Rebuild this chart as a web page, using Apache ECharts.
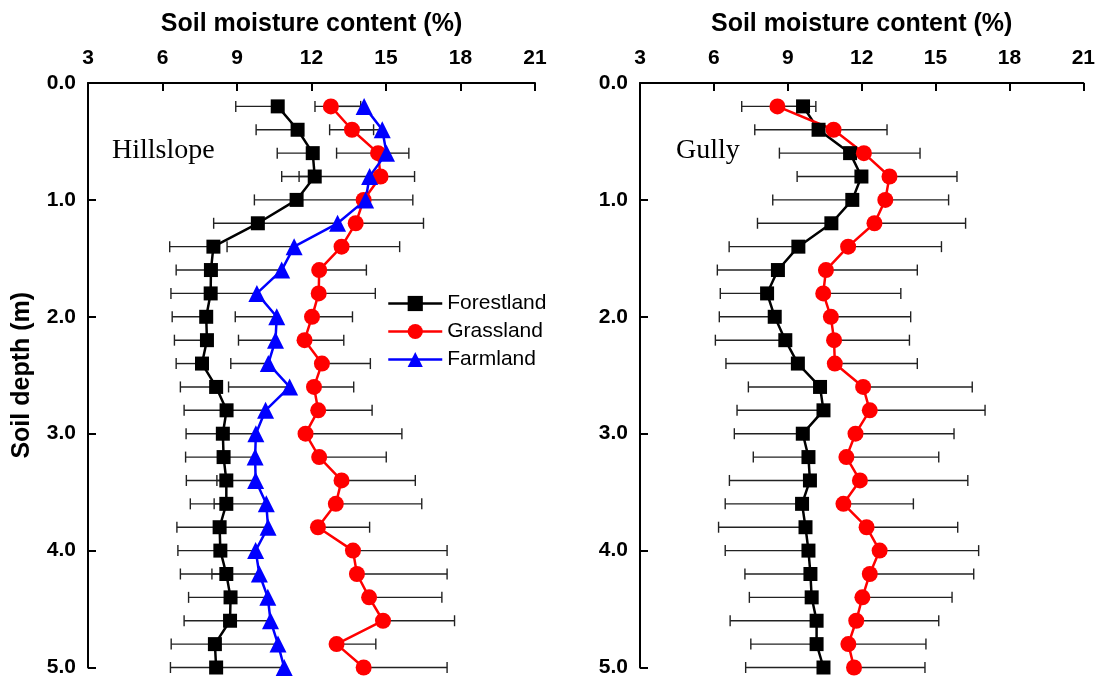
<!DOCTYPE html>
<html>
<head>
<meta charset="utf-8">
<script src="https://cdn.jsdelivr.net/npm/echarts@6/dist/echarts.min.js"></script>
<style>
html,body{margin:0;padding:0;background:#fff;}
#chart{width:1098px;height:678px;}
</style>
</head>
<body>
<div id="chart"></div>
<script>
// Soil depth (m) of each measurement
const depths = [0.2,0.4,0.6,0.8,1.0,1.2,1.4,1.6,1.8,2.0,2.2,2.4,2.6,2.8,3.0,3.2,3.4,3.6,3.8,4.0,4.2,4.4,4.6,4.8,5.0];

// Hillslope
const hillForest    = [10.64,11.44,12.05,12.13,11.40,9.84,8.05,7.95,7.94,7.76,7.79,7.59,8.16,8.58,8.43,8.46,8.57,8.57,8.30,8.33,8.57,8.74,8.72,8.11,8.16];
const hillForestErr = [1.69,1.67,1.43,1.33,1.70,1.78,1.76,1.40,1.60,1.37,1.31,1.04,1.44,1.71,1.48,1.53,1.61,1.45,1.72,1.71,1.85,1.69,1.85,1.76,1.84];
const hillGrass     = [12.78,13.63,14.68,14.78,14.10,13.78,13.21,12.31,12.29,12.02,11.72,12.42,12.10,12.27,11.76,12.31,13.21,12.98,12.26,13.67,13.83,14.32,14.88,13.01,14.10];
const hillGrassErr  = [1.20,0.87,1.24,1.37,1.98,2.73,2.34,1.90,2.28,1.63,1.58,1.95,1.60,2.17,3.88,2.70,2.97,3.46,2.08,3.79,3.63,2.93,2.88,1.58,3.36];
const hillFarm      = [14.12,14.85,15.02,14.34,14.18,13.05,11.30,10.80,9.80,10.60,10.55,10.26,11.12,10.15,9.76,9.73,9.75,10.18,10.25,9.75,9.90,10.24,10.35,10.65,10.90];
const hillFarmErr   = [1.98,2.12,2.01,2.84,2.80,3.20,2.70,2.80,1.90,1.67,1.49,1.51,2.46,1.60,1.30,1.30,1.56,2.10,1.95,1.40,1.91,1.50,1.65,2.50,2.70];

// Gully
const gullyForest    = [9.62,10.25,11.53,11.99,11.62,10.77,9.43,8.60,8.16,8.47,8.90,9.41,10.31,10.45,9.61,9.84,9.90,9.58,9.72,9.84,9.92,9.97,10.17,10.17,10.45];
const gullyForestErr = [2.49,2.59,2.87,2.61,3.23,3.00,2.81,2.46,1.90,2.25,2.84,2.92,2.91,3.51,2.78,2.24,3.27,3.12,3.53,3.38,2.66,2.53,3.51,2.67,3.16];
const gullyGrass     = [8.58,10.86,12.09,13.13,12.96,12.52,11.45,10.55,10.44,10.75,10.88,10.91,12.06,12.33,11.75,11.38,11.93,11.26,12.20,12.73,12.33,12.03,11.78,11.46,11.69];
const gullyGrassErr  = [1.56,2.17,2.28,2.74,2.57,3.70,3.79,3.71,3.15,3.24,3.06,3.35,4.43,4.68,4.00,3.75,4.38,2.84,3.70,4.02,4.22,3.64,3.35,3.15,2.88];

const seriesNames = ['Forestland','Grassland','Farmland'];
const panelLabels = ['Hillslope','Gully'];
const xAxisTitle = 'Soil moisture content (%)';
const yAxisTitle = 'Soil depth (m)';

const chart = echarts.init(document.getElementById('chart'), null, {renderer:'canvas'});

const tickFont = {fontFamily:'Liberation Sans, Arial, sans-serif', fontWeight:'bold', fontSize:21, color:'#000'};
const nameFont = {fontFamily:'Liberation Sans, Arial, sans-serif', fontWeight:'bold', fontSize:25, color:'#000'};

function xAxisDef(idx){
  return {
    type:'value', gridIndex:idx, position:'top', min:3, max:21, interval:3,
    name:xAxisTitle, nameLocation:'middle', nameGap:46, nameTextStyle:nameFont,
    axisLine:{show:true, onZero:false, lineStyle:{color:'#000', width:2}},
    axisTick:{show:true, inside:true, length:8, lineStyle:{color:'#000', width:2}},
    axisLabel:Object.assign({margin:14}, tickFont),
    splitLine:{show:false}
  };
}
function yAxisDef(idx, withName){
  return {
    type:'value', gridIndex:idx, inverse:true, min:0, max:5, interval:1,
    name: withName ? yAxisTitle : '', nameLocation:'middle', nameGap:53, nameRotate:90, nameTextStyle:nameFont,
    axisLine:{show:true, onZero:false, lineStyle:{color:'#000', width:2}},
    axisTick:{show:true, inside:true, length:8, lineStyle:{color:'#000', width:2}},
    axisLabel:Object.assign({margin:12, formatter:v=>v.toFixed(1)}, tickFont),
    splitLine:{show:false}
  };
}

function lineSeries(name, vals, color, symbol, size, gi){
  return {
    type:'line', name:name, xAxisIndex:gi, yAxisIndex:gi, z:5,
    data: depths.map((d,i)=>[vals[i], d]),
    symbol:symbol, symbolSize:size, showAllSymbol:true,
    lineStyle:{color:color, width:2.5},
    itemStyle:{color:color, borderWidth:0},
    emphasis:{disabled:true}, animation:false
  };
}
function errSeries(vals, errs, dir, gi){
  return {
    type:'custom', name:'err', xAxisIndex:gi, yAxisIndex:gi, z:2, silent:true, animation:false,
    data: depths.map((d,i)=>[vals[i], d, errs[i]]),
    encode:{x:0, y:1},
    renderItem:function(params, api){
      const x = api.value(0), y = api.value(1), e = api.value(2);
      const p0 = api.coord([x, y]);
      const p1 = api.coord([x + dir*e, y]);
      const st = {stroke:'#222', lineWidth:1.4};
      return {type:'group', children:[
        {type:'line', shape:{x1:p0[0], y1:p0[1], x2:p1[0], y2:p1[1]}, style:st},
        {type:'line', shape:{x1:p1[0], y1:p1[1]-5.5, x2:p1[0], y2:p1[1]+5.5}, style:st}
      ]};
    }
  };
}

const option = {
  backgroundColor:'#fff',
  animation:false,
  grid:[
    {left:88, top:83, width:447, height:587, containLabel:false},
    {left:640, top:83, width:447, height:587, containLabel:false}
  ],
  xAxis:[xAxisDef(0), xAxisDef(1)],
  yAxis:[yAxisDef(0,true), yAxisDef(1,false)],
  legend:{
    data:seriesNames, orient:'vertical', left:382, top:288,
    itemWidth:54, itemHeight:19, itemGap:7,
    lineStyle:{width:2.5},
    textStyle:{fontFamily:'Liberation Sans, Arial, sans-serif', fontSize:21, color:'#000', padding:[0,0,0,0]},
    selectedMode:false
  },
  graphic:[
    {type:'text', left:112, top:137, style:{text:panelLabels[0], font:'28px "Liberation Serif", "Times New Roman", serif', fill:'#000'}},
    {type:'text', left:676, top:137, style:{text:panelLabels[1], font:'28px "Liberation Serif", "Times New Roman", serif', fill:'#000'}}
  ],
  series:[
    errSeries(hillForest, hillForestErr, -1, 0),
    errSeries(hillFarm, hillFarmErr, -1, 0),
    errSeries(hillGrass, hillGrassErr, 1, 0),
    errSeries(gullyForest, gullyForestErr, -1, 1),
    errSeries(gullyGrass, gullyGrassErr, 1, 1),
    lineSeries(seriesNames[0], hillForest, '#000000', 'rect', 14, 0),
    lineSeries(seriesNames[1], hillGrass, '#ff0000', 'circle', 16, 0),
    lineSeries(seriesNames[2], hillFarm, '#0000ff', 'triangle', 17, 0),
    lineSeries(seriesNames[0], gullyForest, '#000000', 'rect', 14, 1),
    lineSeries(seriesNames[1], gullyGrass, '#ff0000', 'circle', 16, 1)
  ]
};
chart.setOption(option);
</script>
</body>
</html>
